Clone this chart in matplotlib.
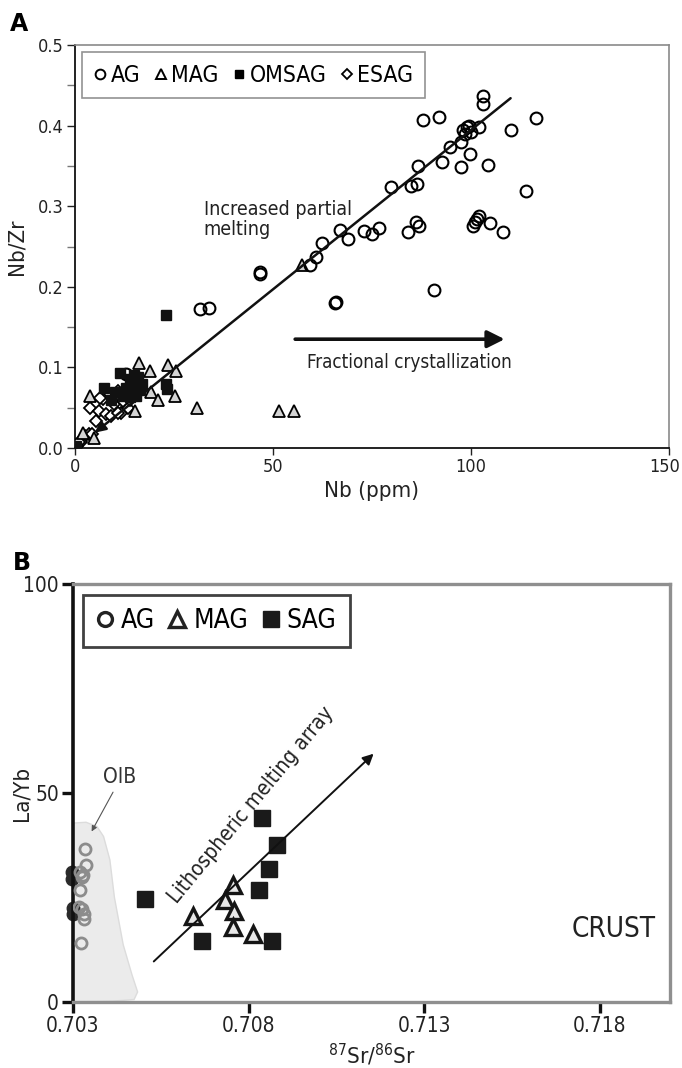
import matplotlib
matplotlib.use("Agg")
import matplotlib.pyplot as plt
from matplotlib.lines import Line2D
from matplotlib.patches import Polygon
from matplotlib.transforms import ScaledTranslation

# ------------------------------
# Data, panel A (Nb vs Nb/Zr)
# ------------------------------
ag_nb = [103, 103, 88, 92, 116.5, 110, 102, 98, 99, 99.5, 100, 98.5, 97.5, 94.8,
         97.6, 92.6, 86.6, 99.8, 104.4, 113.8, 79.7, 84.9, 86.4, 84.2, 86, 86.9,
         100.5, 101, 101.5, 102, 104.9, 108, 72.9, 75, 76.7, 66.8, 69, 62.4, 60.8,
         59.3, 46.7, 46.8, 65.7, 65.8, 90.7, 31.6, 33.8, 13]
ag_nbzr = [0.437, 0.427, 0.407, 0.411, 0.409, 0.395, 0.398, 0.395, 0.398, 0.400,
           0.392, 0.390, 0.380, 0.374, 0.349, 0.355, 0.350, 0.365, 0.351, 0.319,
           0.324, 0.325, 0.327, 0.268, 0.280, 0.275, 0.276, 0.280, 0.284, 0.288,
           0.279, 0.268, 0.269, 0.265, 0.273, 0.270, 0.259, 0.254, 0.237, 0.227,
           0.218, 0.216, 0.180, 0.181, 0.196, 0.172, 0.174, 0.092]

mag_nb = [57.3, 16.2, 19.0, 23.4, 25.5, 3.9, 19.2, 21.0, 25.3, 15.1, 30.9, 51.5,
          55.3, 4.9, 2.0]
mag_nbzr = [0.227, 0.105, 0.095, 0.103, 0.095, 0.065, 0.069, 0.059, 0.065, 0.046,
            0.050, 0.046, 0.046, 0.013, 0.018]

omsag_nb = [23, 11.3, 7.2, 23.2, 23, 14, 15, 16, 15.5, 14.5, 16.5, 13, 17, 12, 9,
            14, 15.5, 0.3, 10]
omsag_nbzr = [0.165, 0.093, 0.075, 0.073, 0.080, 0.085, 0.090, 0.088, 0.078, 0.070,
              0.072, 0.075, 0.080, 0.065, 0.060, 0.063, 0.065, 0.003, 0.070]

esag_nb = [7.1, 3.9, 6.0, 7.8, 10.9, 9.9, 11.6, 13.3, 9.1, 2.4, 1.5, 3.6, 0.5,
           12.4, 5.3, 14, 6.4, 10.8, 12.2, 0.9, 4.2]
esag_nbzr = [0.061, 0.050, 0.046, 0.042, 0.071, 0.055, 0.044, 0.050, 0.040, 0.015,
             0.008, 0.017, 0.003, 0.061, 0.034, 0.059, 0.062, 0.043, 0.058, 0.008,
             0.017]

# ------------------------------
# Data, panel B (87Sr/86Sr vs La/Yb)
# ------------------------------
agb_sr = [0.70333, 0.70337, 0.70327, 0.70319, 0.70325, 0.70331, 0.70322,
          0.70320, 0.70318, 0.70330, 0.70328]
agb_layb = [36.5, 32.7, 29.9, 26.7, 22.2, 19.8, 14.1, 31.0, 22.8, 21.0, 30.5]
agb_dark_sr = [0.70298, 0.70298, 0.70300, 0.70300]
agb_dark_layb = [31.0, 29.5, 22.5, 21.0]

magb_sr = [0.70641, 0.70755, 0.70734, 0.70759, 0.70755, 0.70812]
magb_layb = [20.6, 27.9, 24.3, 21.8, 17.9, 16.3]

sagb_sr = [0.70505, 0.70668, 0.70837, 0.70881, 0.70858, 0.70830, 0.70866]
sagb_layb = [24.7, 14.6, 44.1, 37.6, 31.9, 26.9, 14.6]

oib_sr = [0.7030, 0.70337, 0.70368, 0.70387, 0.70405, 0.70418, 0.70443, 0.70468,
          0.70484, 0.70474, 0.70412, 0.7030]
oib_layb = [42.8, 43.0, 42.0, 39.6, 34.0, 25.0, 13.7, 6.5, 2.4, 0.6, 0.2, 0.0]

a_xticks = [0, 50, 100, 150]
a_yticks = [0.0, 0.1, 0.2, 0.3, 0.4, 0.5]
b_xticks = [0.703, 0.708, 0.713, 0.718]
b_xlabels = ["0.703", "0.708", "0.713", "0.718"]
b_yticks = [0, 50, 100]

# ------------------------------
# Fonts (narrow look, like the original)
# ------------------------------
plt.rcParams["font.family"] = ["DejaVu Sans"]
plt.rcParams["font.stretch"] = "condensed"

fig = plt.figure(figsize=(6.82, 10.68), dpi=100)

# ==============================
# Panel A
# ==============================
ax = fig.add_axes([75 / 682, 1 - 448 / 1068, 594 / 682, 403 / 1068])
ax.set_xlim(0, 150)
ax.set_ylim(0, 0.5)

ax.plot(esag_nb, esag_nbzr, ls="none", marker="D", ms=6, mfc="white", mec="black",
        mew=1.3, zorder=3)
ax.plot(mag_nb, mag_nbzr, ls="none", marker="^", ms=9, mfc="#d4d4d4", mec="black",
        mew=1.3, zorder=3)
ax.plot(omsag_nb, omsag_nbzr, ls="none", marker="s", ms=7, mfc="#111111", mec="#111111",
        zorder=4)
ax.plot(ag_nb, ag_nbzr, ls="none", marker="o", ms=8.5, mfc="none", mec="black",
        mew=1.5, zorder=3)

ax.annotate("", xy=(5, 0.019), xytext=(110, 0.434),
            arrowprops=dict(arrowstyle="-|>", lw=1.8, color="#111111",
                            mutation_scale=16, shrinkA=0, shrinkB=0), zorder=5)
ax.annotate("", xy=(108.5, 0.135), xytext=(55.6, 0.135),
            arrowprops=dict(arrowstyle="-|>", lw=2.6, color="#111111",
                            mutation_scale=26, shrinkA=0, shrinkB=0), zorder=5)

ax.text(32.5, 0.308, "Increased partial\nmelting", fontsize=14, ha="left", va="top",
        color="#222222", linespacing=1.1)
ax.text(58.5, 0.106, "Fractional crystallization", fontsize=13.5, ha="left",
        va="center", color="#222222")

for s in ["left", "bottom"]:
    ax.spines[s].set_color("#111111")
    ax.spines[s].set_linewidth(1.3)
for s in ["top", "right"]:
    ax.spines[s].set_color("#8a8a8a")
    ax.spines[s].set_linewidth(1.2)

ax.set_xticks(a_xticks)
ax.set_yticks(a_yticks)
ax.set_yticks([0.05, 0.15, 0.25, 0.35, 0.45], minor=True)
ax.set_yticklabels([f"{v:.1f}" for v in a_yticks])
ax.tick_params(axis="both", which="major", direction="out", length=6, width=1,
               labelsize=13, pad=2, colors="#222222")
ax.tick_params(axis="y", which="minor", direction="out", length=6, width=1,
               colors="#777777")
ax.tick_params(axis="x", which="major", length=5)
# keep the last x label inside the figure
last = ax.get_xticklabels()[-1]
last.set_transform(last.get_transform() + ScaledTranslation(-4 / 100, 0, fig.dpi_scale_trans))
ax.set_xlabel("Nb (ppm)", fontsize=16, labelpad=4, color="#222222")
ax.set_ylabel("Nb/Zr", fontsize=16, labelpad=8, color="#222222")

h_a = [
    Line2D([], [], ls="none", marker="o", ms=7, mfc="none", mec="black", mew=1.4),
    Line2D([], [], ls="none", marker="^", ms=7, mfc="none", mec="black", mew=1.4),
    Line2D([], [], ls="none", marker="s", ms=6, mfc="black", mec="black"),
    Line2D([], [], ls="none", marker="D", ms=5.5, mfc="none", mec="black", mew=1.3),
]
leg_a = ax.legend(h_a, ["AG", "MAG", "OMSAG", "ESAG"], ncol=4, loc="upper left",
                  bbox_to_anchor=(0.012, 0.982), borderaxespad=0, fontsize=16.5,
                  handlelength=0.6, handletextpad=0.15, columnspacing=0.6,
                  borderpad=0.5, fancybox=False, frameon=True)
leg_a.get_frame().set_edgecolor("#777777")
leg_a.get_frame().set_linewidth(1.2)

fig.text(10 / 682, 1 - 12 / 1068, "A", fontsize=17, fontweight="bold", ha="left",
         va="top", family="DejaVu Sans", stretch="normal")

# ==============================
# Panel B
# ==============================
bx = fig.add_axes([73 / 682, 1 - 1002 / 1068, 597 / 682, 418 / 1068])
bx.set_xlim(0.703, 0.720)
bx.set_ylim(0, 100)

bx.add_patch(Polygon(list(zip(oib_sr, oib_layb)), closed=True, facecolor="#ebebeb",
                     edgecolor="#dcdcdc", lw=1, zorder=1))

bx.plot(agb_dark_sr, agb_dark_layb, ls="none", marker="o", ms=9, mfc="#2a2a2a",
        mec="#2a2a2a", clip_on=False, zorder=2)
bx.plot(agb_sr, agb_layb, ls="none", marker="o", ms=8, mfc="none", mec="#8c8c8c",
        mew=2, zorder=3)
bx.plot(magb_sr, magb_layb, ls="none", marker="^", ms=12, mfc="#e8e8e8", mec="#151515",
        mew=2.4, zorder=4)
bx.plot(sagb_sr, sagb_layb, ls="none", marker="s", ms=12, mfc="#1a1a1a", mec="#1a1a1a",
        zorder=4)

bx.annotate("", xy=(0.71156, 59.4), xytext=(0.7053, 9.7),
            arrowprops=dict(arrowstyle="-|>", lw=1.4, color="#111111",
                            mutation_scale=16, shrinkA=0, shrinkB=0), zorder=5)
bx.text(0.70806, 47.2, "Lithospheric melting array", fontsize=15, rotation=50.5,
        rotation_mode="anchor", ha="center", va="center", color="#222222")

bx.annotate("", xy=(0.70353, 40.8), xytext=(0.70414, 50.2),
            arrowprops=dict(arrowstyle="-|>", lw=0.8, color="#555555",
                            mutation_scale=8, shrinkA=0, shrinkB=0))
bx.text(0.70432, 53.8, "OIB", fontsize=15, ha="center", va="center", color="#333333")
bx.text(0.7184, 17.4, "CRUST", fontsize=20, ha="center", va="center", color="#222222")

bx.spines["left"].set_color("#111111")
bx.spines["left"].set_linewidth(2.6)
for s in ["top", "right", "bottom"]:
    bx.spines[s].set_color("#8f8f8f")
    bx.spines[s].set_linewidth(2.4)

bx.set_xticks(b_xticks)
bx.set_xticklabels(b_xlabels)
bx.set_yticks(b_yticks)
bx.tick_params(axis="both", direction="out", length=8, width=2.4, labelsize=15,
               pad=2, color="#111111", labelcolor="#222222")
bx.set_xlabel(r"$^{87}$Sr/$^{86}$Sr", fontsize=16, labelpad=4, color="#222222")
bx.set_ylabel("La/Yb", fontsize=16, labelpad=-6, color="#222222")

h_b = [
    Line2D([], [], ls="none", marker="o", ms=10, mfc="none", mec="#222222", mew=2.4),
    Line2D([], [], ls="none", marker="^", ms=11, mfc="none", mec="#222222", mew=2.4),
    Line2D([], [], ls="none", marker="s", ms=11, mfc="#1a1a1a", mec="#1a1a1a"),
]
leg_b = bx.legend(h_b, ["AG", "MAG", "SAG"], ncol=3, loc="upper left",
                  bbox_to_anchor=(0.016, 0.974), borderaxespad=0, fontsize=19,
                  handlelength=0.7, handletextpad=0.25, columnspacing=0.5,
                  borderpad=0.5, fancybox=False, frameon=True)
leg_b.get_frame().set_edgecolor("#111111")
leg_b.get_frame().set_linewidth(2)

fig.text(13 / 682, 1 - 551 / 1068, "B", fontsize=17, fontweight="bold", ha="left",
         va="top", family="DejaVu Sans", stretch="normal")

fig.savefig("out.png", dpi=100)
